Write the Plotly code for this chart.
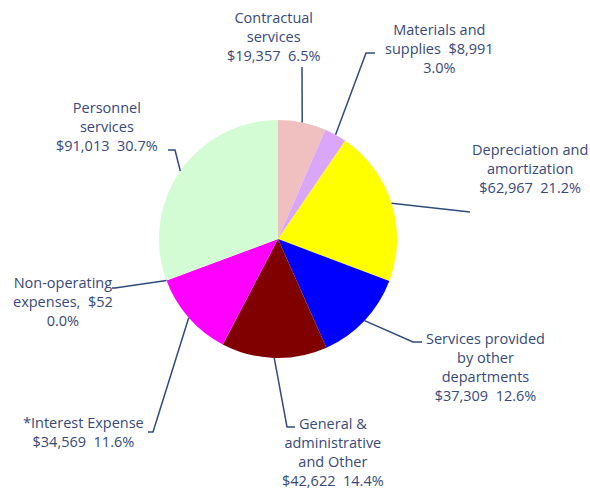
import math
import plotly.graph_objects as go

# Expense categories, clockwise from 12 o'clock
categories = [
    "Contractual services",
    "Materials and supplies",
    "Depreciation and amortization",
    "Services provided by other departments",
    "General & administrative and Other",
    "*Interest Expense",
    "Non-operating expenses,",
    "Personnel services",
]
values = [19357, 8991, 62967, 37309, 42622, 34569, 52, 91013]
colors = ["#F0C0C0", "#D9A6F9", "#FFFF00", "#0000FF", "#800000", "#FF00FF", "#E0E0E0", "#D4FCD4"]

# Label text lines (the $ and % parts are filled in from the values)
label_lines = [
    ["Contractual", "services", "{v}  {p}"],
    ["Materials and", "supplies  {v}", "{p}"],
    ["Depreciation and", "amortization", "{v}  {p}"],
    ["Services provided", "by other", "departments", "{v}  {p}"],
    ["General &", "administrative", "and Other", "{v}  {p}"],
    ["*Interest Expense", "{v}  {p}"],
    ["Non-operating", "expenses,  {v}", "{p}"],
    ["Personnel", "services", "{v}  {p}"],
]

W, H = 590, 493
CX, CY, R = 278, 239, 119  # pie centre and radius in pixels

# Label block centres and leader-line elbows/ends (pixels)
label_pos = [(273, 36), (439, 49), (530, 168), (485, 367), (333, 452), (83, 432), (63, 301), (107, 126)]
leader = [
    [(302, 67)],
    [(366, 53), (375, 53)],
    [(470, 212)],
    [(413, 342), (422, 342)],
    [(287, 427), (295, 427)],
    [(153, 432), (148, 432)],
    [(115, 288), (112, 288)],
    [(175, 150), (168, 150)],
]

TEXT = "#38497A"
LINE = "#2F4B7C"

def px(x, y):
    return x / W, 1 - y / H

total = sum(values)
fig = go.Figure()
x0, y0 = px(CX - R, CY + R)
x1, y1 = px(CX + R, CY - R)
fig.add_trace(go.Pie(
    labels=categories, values=values, sort=False, direction="clockwise", rotation=0,
    marker=dict(colors=colors, line=dict(width=0)),
    textinfo="none", hoverinfo="label+value+percent", showlegend=False,
    domain=dict(x=[x0, x1], y=[y0, y1]),
))

shapes, annotations = [], []
cum = 0
for i, v in enumerate(values):
    mid = (cum + v / 2) / total * 2 * math.pi
    cum += v
    ex, ey = CX + R * math.sin(mid), CY - R * math.cos(mid)
    pts = [(ex, ey)] + leader[i]
    path = "M " + " L ".join(f"{px(a, b)[0]:.5f},{px(a, b)[1]:.5f}" for a, b in pts)
    shapes.append(dict(type="path", path=path, xref="paper", yref="paper",
                       line=dict(color=LINE, width=1.5)))
    vs = f"${v:,}"
    ps = f"{v / total * 100:.1f}%"
    text = "<br>".join(s.format(v=vs, p=ps) for s in label_lines[i])
    lx, ly = px(*label_pos[i])
    annotations.append(dict(x=lx, y=ly, xref="paper", yref="paper", text=text,
                            showarrow=False, align="center", xanchor="center", yanchor="middle",
                            font=dict(family="Open Sans", size=14.5, color=TEXT)))

fig.update_layout(
    width=W, height=H, margin=dict(l=0, r=0, t=0, b=0),
    paper_bgcolor="white", plot_bgcolor="white",
    shapes=shapes, annotations=annotations,
)
fig.write_html("out.html")
